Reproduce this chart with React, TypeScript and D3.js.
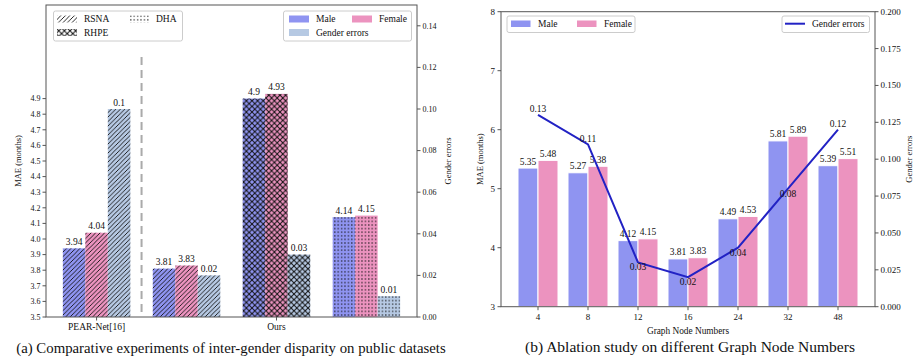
import React from "react";
import * as d3 from "d3";

// ---- data: panel (a)
const groupTicksA = [0, 2];
const groupTickLabelsA = ["PEAR-Net[16]", "Ours"];
const hatchA = ["diag", "diag", "cross", "dots"]; // RSNA, RSNA, RHPE, DHA
const maleA = [3.94, 3.81, 4.9, 4.14];
const femaleA = [4.04, 3.83, 4.93, 4.15];
const genderErrA = [0.1, 0.02, 0.03, 0.01];
const maeTicksA = [3.5, 3.6, 3.7, 3.8, 3.9, 4.0, 4.1, 4.2, 4.3, 4.4, 4.5, 4.6, 4.7, 4.8, 4.9];
const errTicksA = [0, 0.02, 0.04, 0.06, 0.08, 0.1, 0.12, 0.14];
const hatchLegendA = [
  { label: "RSNA", hatch: "diag" },
  { label: "DHA", hatch: "dots" },
  { label: "RHPE", hatch: "cross" },
];

// ---- data: panel (b)
const nodeNumbers = ["4", "8", "12", "16", "24", "32", "48"];
const maleB = [5.35, 5.27, 4.12, 3.81, 4.49, 5.81, 5.39];
const femaleB = [5.48, 5.38, 4.15, 3.83, 4.53, 5.89, 5.51];
const genderErrB = [0.13, 0.11, 0.03, 0.02, 0.04, 0.08, 0.12];
const maeTicksB = [3, 4, 5, 6, 7, 8];
const errTicksB = [0, 0.025, 0.05, 0.075, 0.1, 0.125, 0.15, 0.175, 0.2];

const MALE = "#8f94f1";
const FEMALE = "#ec93bf";
const GERR = "#b6c9e3";
const LINE = "#2222c4";
const AXIS = "#555";
const FONT = "Liberation Serif, DejaVu Serif, serif";

const fmt = (v: number) => String(+v.toFixed(3));

function PanelA() {
  const L = 46, R = 417, T = 5, B = 317;
  const x = d3.scaleLinear().domain([-0.5625, 3.5625]).range([L, R]);
  const y = d3.scaleLinear().domain([3.5, 5.5]).range([B, T]);
  const y2 = d3.scaleLinear().domain([0, 0.15]).range([B, T]);
  const bw = x(0.25) - x(0);
  const groups = maleA.map((m, i) => ({ i, m, f: femaleA[i], e: genderErrA[i], h: hatchA[i] }));

  return (
    <g>
      {groups.map((g) => {
        const bars = [
          { cx: g.i - 0.25, v: g.m, top: y(g.m), color: MALE },
          { cx: g.i, v: g.f, top: y(g.f), color: FEMALE },
          { cx: g.i + 0.25, v: g.e, top: y2(g.e), color: GERR },
        ];
        return (
          <g key={g.i}>
            {bars.map((b, k) => (
              <g key={k}>
                <rect x={x(b.cx) - bw / 2} y={b.top} width={bw} height={B - b.top} fill={b.color} />
                <rect x={x(b.cx) - bw / 2} y={b.top} width={bw} height={B - b.top} fill={`url(#${g.h})`} />
                <text x={x(b.cx)} y={b.top - 3.5} textAnchor="middle" fontSize={9.5}>{fmt(b.v)}</text>
              </g>
            ))}
          </g>
        );
      })}
      <line x1={x(0.5)} x2={x(0.5)} y1={57} y2={B} stroke="#aaa" strokeWidth={2} strokeDasharray="8,5" />
      {/* axes */}
      <rect x={L} y={T} width={R - L} height={B - T} fill="none" stroke={AXIS} strokeWidth={1} />
      {maeTicksA.map((t) => (
        <g key={t}>
          <line x1={L - 3.5} x2={L} y1={y(t)} y2={y(t)} stroke={AXIS} />
          <text x={L - 5.5} y={y(t) + 2.8} textAnchor="end" fontSize={8}>{t.toFixed(1)}</text>
        </g>
      ))}
      {errTicksA.map((t) => (
        <g key={t}>
          <line x1={R} x2={R + 3.5} y1={y2(t)} y2={y2(t)} stroke={AXIS} />
          <text x={R + 5.5} y={y2(t) + 2.8} fontSize={8}>{t.toFixed(2)}</text>
        </g>
      ))}
      {groupTicks(groupTicksA, groupTickLabelsA, x, B, 9.5)}
      <text transform={`translate(21,${(T + B) / 2}) rotate(-90)`} textAnchor="middle" fontSize={8.5}>MAE (months)</text>
      <text transform={`translate(451,${(T + B) / 2}) rotate(-90)`} textAnchor="middle" fontSize={8.5}>Gender errors</text>
      {/* hatch legend */}
      <rect x={53.5} y={11} width={129} height={30} rx={2} fill="#fff" fillOpacity={0.8} stroke="#ccc" />
      {hatchLegendA.map((l, k) => {
        const lx = k === 1 ? 129 : 57;
        const ly = k === 2 ? 32.5 : 19;
        return (
          <g key={l.label}>
            <rect x={lx} y={ly - 3.5} width={20} height={7} fill={`url(#${l.hatch})`} />
            <text x={lx + 27} y={ly + 3.3} fontSize={9.5}>{l.label}</text>
          </g>
        );
      })}
      {/* colour legend */}
      <rect x={283.5} y={11} width={128} height={30} rx={2} fill="#fff" fillOpacity={0.8} stroke="#ccc" />
      {[
        { label: "Male", c: MALE, lx: 289, ly: 19 },
        { label: "Female", c: FEMALE, lx: 352, ly: 19 },
        { label: "Gender errors", c: GERR, lx: 289, ly: 32.5 },
      ].map((l) => (
        <g key={l.label}>
          <rect x={l.lx} y={l.ly - 3.5} width={20} height={7} fill={l.c} />
          <text x={l.lx + 27} y={l.ly + 3.3} fontSize={9.5}>{l.label}</text>
        </g>
      ))}
      <text x={231} y={353} textAnchor="middle" fontSize={14.8}>
        (a) Comparative experiments of inter-gender disparity on public datasets
      </text>
    </g>
  );
}

function groupTicks(ticks: number[], labels: string[], x: (v: number) => number, B: number, fs: number) {
  return ticks.map((t, k) => (
    <g key={k}>
      <line x1={x(t)} x2={x(t)} y1={B} y2={B + 3.5} stroke={AXIS} />
      <text x={x(t)} y={B + 13} textAnchor="middle" fontSize={fs}>{labels[k]}</text>
    </g>
  ));
}

function PanelB() {
  const L = 501, R = 875, T = 11.7, B = 306.7;
  const x = d3.scaleLinear().domain([-0.74, 6.74]).range([L, R]);
  const y = d3.scaleLinear().domain([3, 8]).range([B, T]);
  const y2 = d3.scaleLinear().domain([0, 0.2]).range([B, T]);
  const bw = x(0.4) - x(0);
  const line = d3
    .line<number>()
    .x((_, i) => x(i))
    .y((d) => y2(d));

  return (
    <g>
      {nodeNumbers.map((n, i) => (
        <g key={n}>
          <rect x={x(i - 0.2) - bw / 2} y={y(maleB[i])} width={bw} height={B - y(maleB[i])} fill={MALE} stroke="#fff" strokeWidth={1} />
          <rect x={x(i + 0.2) - bw / 2} y={y(femaleB[i])} width={bw} height={B - y(femaleB[i])} fill={FEMALE} stroke="#fff" strokeWidth={1} />
        </g>
      ))}
      {nodeNumbers.map((n, i) => (
        <g key={n}>
          <text x={x(i - 0.2)} y={y(maleB[i]) - 3.5} textAnchor="middle" fontSize={9.5}>{fmt(maleB[i])}</text>
          <text x={x(i + 0.2)} y={y(femaleB[i]) - 3.5} textAnchor="middle" fontSize={9.5}>{fmt(femaleB[i])}</text>
        </g>
      ))}
      <path d={line(genderErrB) ?? ""} fill="none" stroke={LINE} strokeWidth={2} />
      {genderErrB.map((v, i) => (
        <text key={i} x={x(i)} y={v >= 0.1 ? y2(v) - 2.5 : y2(v) + 7.8} textAnchor="middle" fontSize={9.5}>{fmt(v)}</text>
      ))}
      <rect x={L} y={T} width={R - L} height={B - T} fill="none" stroke={AXIS} strokeWidth={1} />
      {maeTicksB.map((t) => (
        <g key={t}>
          <line x1={L - 3.5} x2={L} y1={y(t)} y2={y(t)} stroke={AXIS} />
          <text x={L - 6} y={y(t) + 3} textAnchor="end" fontSize={9}>{t}</text>
        </g>
      ))}
      {errTicksB.map((t) => (
        <g key={t}>
          <line x1={R} x2={R + 3.5} y1={y2(t)} y2={y2(t)} stroke={AXIS} />
          <text x={R + 5.5} y={y2(t) + 3} fontSize={9}>{t.toFixed(3)}</text>
        </g>
      ))}
      {groupTicks(nodeNumbers.map((_, i) => i), nodeNumbers, x, B, 9)}
      <text x={(L + R) / 2} y={334} textAnchor="middle" fontSize={9.3}>Graph Node Numbers</text>
      <text transform={`translate(483,${(T + B) / 2}) rotate(-90)`} textAnchor="middle" fontSize={8.5}>MAE (months)</text>
      <text transform={`translate(912,${(T + B) / 2}) rotate(-90)`} textAnchor="middle" fontSize={8.5}>Gender errors</text>
      {/* legends */}
      <rect x={507} y={16} width={128} height={16.5} rx={2} fill="#fff" fillOpacity={0.8} stroke="#ccc" />
      {[
        { label: "Male", c: MALE, lx: 511 },
        { label: "Female", c: FEMALE, lx: 577 },
      ].map((l) => (
        <g key={l.label}>
          <rect x={l.lx} y={20.5} width={19.5} height={6.5} fill={l.c} />
          <text x={l.lx + 27} y={27} fontSize={9.5}>{l.label}</text>
        </g>
      ))}
      <rect x={782} y={16} width={87.5} height={16.5} rx={2} fill="#fff" fillOpacity={0.8} stroke="#ccc" />
      <line x1={785} x2={805} y1={23.7} y2={23.7} stroke={LINE} strokeWidth={2} />
      <text x={812} y={27} fontSize={9.5}>Gender errors</text>
      <text x={690} y={352} textAnchor="middle" fontSize={15.5}>
        (b) Ablation study on different Graph Node Numbers
      </text>
    </g>
  );
}

export default function App() {
  return (
    <svg
      width={913}
      height={360}
      viewBox="0 0 913 360"
      style={{ position: "absolute", left: 0, top: 0, background: "#fff", fontFamily: FONT }}
      fill="#111"
    >
      <defs>
        <pattern id="diag" patternUnits="userSpaceOnUse" width={4.5} height={4.5}>
          <path d="M0,4.5 L4.5,0 M-1.2,1.2 L1.2,-1.2 M3.3,5.7 L5.7,3.3" stroke="#111" strokeWidth={0.9} />
        </pattern>
        <pattern id="cross" patternUnits="userSpaceOnUse" width={5.6} height={5.6}>
          <path d="M0,5.6 L5.6,0 M0,0 L5.6,5.6" stroke="#111" strokeWidth={1} />
        </pattern>
        <pattern id="dots" patternUnits="userSpaceOnUse" width={3.4} height={3.6}>
          <rect x={1} y={1.2} width={1.2} height={1.2} fill="#111" />
        </pattern>
      </defs>
      <PanelA />
      <PanelB />
    </svg>
  );
}
